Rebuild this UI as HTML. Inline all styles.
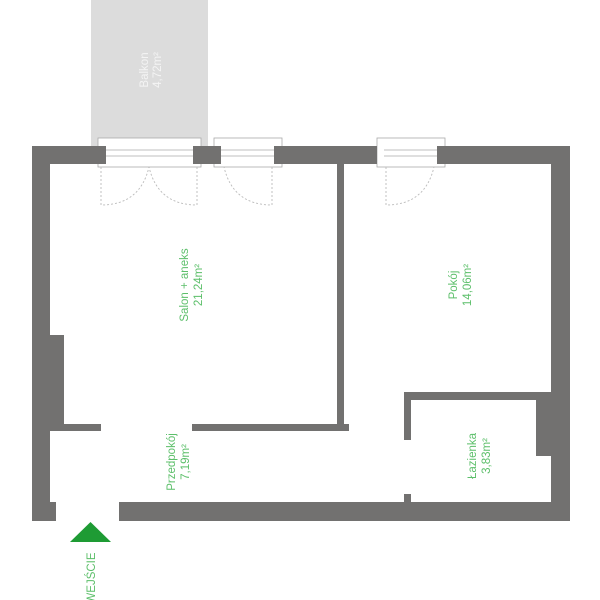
<!DOCTYPE html>
<html><head><meta charset="utf-8"><style>
html,body{margin:0;padding:0;background:#fff;}
svg{display:block;}
text{font-family:"Liberation Sans",sans-serif;font-size:11.5px;fill:#5cbf6a;}
</style></head><body>
<svg width="600" height="600" viewBox="0 0 600 600" xmlns="http://www.w3.org/2000/svg">
<rect x="91" y="0" width="117" height="147" fill="#dcdcdc"/>
<g transform="translate(150,70) rotate(-90)">
<text x="0" y="-2" text-anchor="middle" style="fill:#f4f4f4">Balkon</text>
<text x="0" y="11" text-anchor="middle" style="fill:#f4f4f4">4,72m²</text>
</g>
<!-- windows -->
<g fill="#fff" stroke="#aaa" stroke-width="0.8">
<rect x="98" y="138" width="103" height="29"/>
<rect x="214" y="138" width="68" height="29"/>
<rect x="377" y="138" width="68" height="29"/>
</g>
<g stroke="#aaa" stroke-width="0.8">
<line x1="106" y1="150" x2="193" y2="150"/><line x1="106" y1="156" x2="193" y2="156"/>
<line x1="221" y1="150" x2="274" y2="150"/><line x1="221" y1="156" x2="274" y2="156"/>
<line x1="384" y1="150" x2="437" y2="150"/><line x1="384" y1="156" x2="437" y2="156"/>
</g>
<!-- door swings -->
<g fill="none" stroke="#bbb" stroke-width="0.9" stroke-dasharray="2,2">
<path d="M101 167 V205 Q140 205 149 167"/>
<path d="M197 167 V205 Q158 205 149 167"/>
<path d="M272 167 V205 Q233 205 224 167"/>
<path d="M386 167 V205 Q425 205 434 167"/>
</g>
<!-- walls -->
<g fill="#727170">
<rect x="32" y="146" width="74" height="18"/>
<rect x="193" y="146" width="28" height="18"/>
<rect x="274" y="146" width="103" height="18"/>
<rect x="437" y="146" width="133" height="18"/>
<rect x="32" y="146" width="18" height="375"/>
<rect x="50" y="335" width="14" height="96"/>
<rect x="64" y="424" width="37" height="7"/>
<rect x="192" y="424" width="157" height="7"/>
<rect x="337" y="146" width="7" height="285"/>
<rect x="32" y="502" width="24" height="19"/>
<rect x="119" y="502" width="451" height="19"/>
<rect x="551" y="146" width="19" height="375"/>
<rect x="404" y="392" width="147" height="8"/>
<rect x="404" y="392" width="7" height="48"/>
<rect x="404" y="494" width="7" height="8"/>
<rect x="536" y="400" width="15" height="56"/>
</g>
<!-- labels -->
<g transform="translate(190,285) rotate(-90)">
<text x="0" y="-2" text-anchor="middle">Salon + aneks</text>
<text x="0" y="12" text-anchor="middle">21,24m²</text>
</g>
<g transform="translate(459,285) rotate(-90)">
<text x="0" y="-2" text-anchor="middle">Pokój</text>
<text x="0" y="12" text-anchor="middle">14,06m²</text>
</g>
<g transform="translate(177,462) rotate(-90)">
<text x="0" y="-2" text-anchor="middle">Przedpokój</text>
<text x="0" y="12" text-anchor="middle">7,19m²</text>
</g>
<g transform="translate(478,456) rotate(-90)">
<text x="0" y="-2" text-anchor="middle">Łazienka</text>
<text x="0" y="12" text-anchor="middle">3,83m²</text>
</g>
<polygon points="70,542 111,542 90.5,522" fill="#1e9b34"/>
<g transform="translate(95,578) rotate(-90)">
<text x="0" y="0" text-anchor="middle">WEJŚCIE</text>
</g>
</svg>
</body></html>
